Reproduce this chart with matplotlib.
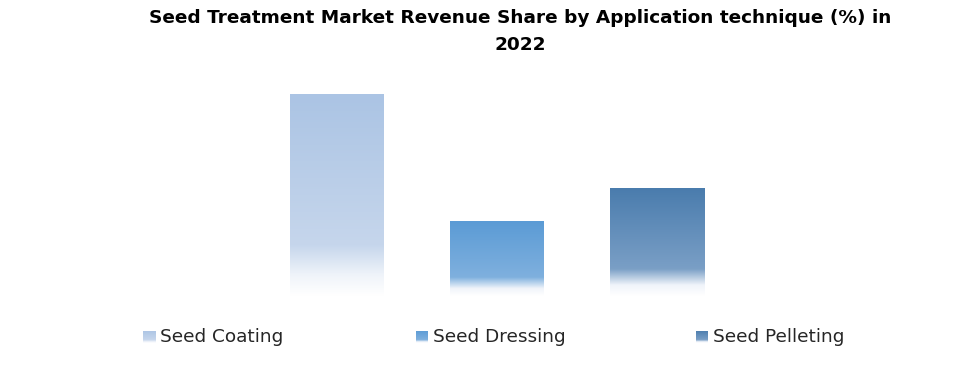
import matplotlib.pyplot as plt
import numpy as np
from matplotlib.colors import LinearSegmentedColormap

plt.switch_backend('Agg')

# данные
categories = ['Seed Coating', 'Seed Dressing', 'Seed Pelleting']
shares = [52.6, 19.3, 28.1]
title = 'Seed Treatment Market Revenue Share by Application technique (%) in\n2022'

top_colors = ['#abc4e4', '#5b9bd5', '#4a7cad']
mid_colors = ['#c6d6ec', '#7fb0de', '#7a9fc6']


def make_cmap(top, mid):
    # снизу почти белый, быстро переходит в основной цвет
    return LinearSegmentedColormap.from_list(
        'g', [(0.0, '#ffffff'), (0.1, '#f0f4fa'), (0.25, mid), (1.0, top)])


fig = plt.figure(figsize=(9.71, 3.71), dpi=100)
ax = fig.add_axes([257 / 971, 1 - 296 / 371, 480 / 971, 230.4 / 371])
ax.axis('off')

width = 0.5875
grad = np.linspace(0, 1, 256).reshape(-1, 1)
for i, (v, t, m) in enumerate(zip(shares, top_colors, mid_colors)):
    ax.imshow(grad, cmap=make_cmap(t, m), origin='lower', aspect='auto',
              extent=(i - width / 2, i + width / 2, 0, v), interpolation='bilinear')
ax.set_xlim(-0.5, 2.5)
ax.set_ylim(0, 60)

fig.text(520 / 971, 1 - 31.5 / 371, title, ha='center', va='center',
         fontsize=13.3, fontweight='bold', linespacing=1.62, family='DejaVu Sans')

# легенда
leg_x = [143, 416, 696]
for lx, name, t, m in zip(leg_x, categories, top_colors, mid_colors):
    lax = fig.add_axes([lx / 971, 1 - 343 / 371, 12 / 971, 12 / 371])
    lax.imshow(grad, cmap=make_cmap(t, m), origin='lower', aspect='auto',
               extent=(0, 1, 0, 1))
    lax.axis('off')
    fig.text((lx + 17) / 971, 1 - 337 / 371, name, ha='left', va='center',
             fontsize=13.3, color='#262626', family='DejaVu Sans')

plt.savefig('out.png', dpi=100)
plt.close(fig)
